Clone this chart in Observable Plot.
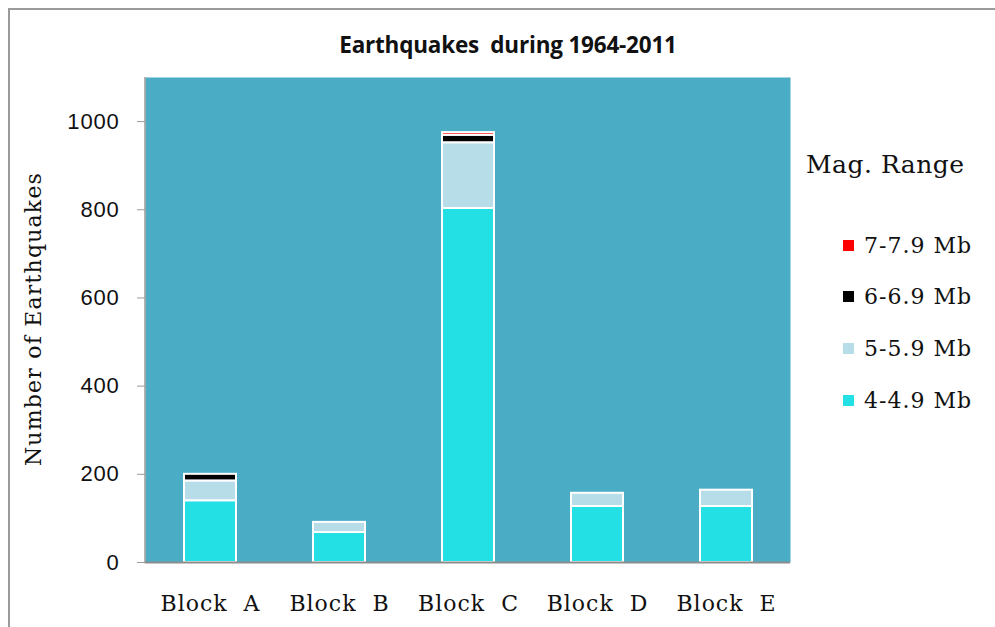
<!DOCTYPE html>
<html>
<head>
<meta charset="utf-8">
<script src="https://cdn.jsdelivr.net/npm/d3@7"></script>
<script src="https://cdn.jsdelivr.net/npm/@observablehq/plot@0.6"></script>
<style>
  html, body { margin: 0; padding: 0; background: #fff; }
  #wrap { position: relative; width: 995px; height: 627px; overflow: hidden; }
  #frame { position: absolute; left: 8px; top: 8px; width: 1000px; height: 640px; border: 2px solid #9a9a9a; box-sizing: border-box; }
  #title { position: absolute; left: 0; width: 1016px; top: 29px; text-align: center; font-family: "Open Sans", sans-serif; font-weight: bold; font-size: 22.5px; letter-spacing: -0.2px; color: #111; white-space: pre; }
  #ylab { position: absolute; left: 33px; top: 319px; transform: translate(-50%, -50%) rotate(-90deg); font-family: "DejaVu Serif", serif; font-size: 22px; letter-spacing: 1.2px; color: #111; white-space: nowrap; }
  #legend { position: absolute; left: 806px; top: 150px; font-family: "DejaVu Serif", serif; color: #111; }
  #legend .ttl { font-size: 25px; letter-spacing: 0.5px; white-space: nowrap; }
  #legend .item { position: absolute; left: 37px; font-size: 22px; letter-spacing: 1px; white-space: nowrap; display: flex; align-items: center; height: 24px; }
  #legend .sw { width: 11px; height: 11px; margin-right: 10px; }
  svg { position: absolute; left: 0; top: 0; white-space: pre; }
</style>
</head>
<body>
<div id="wrap">
  <div id="frame"></div>
  <div id="chart"></div>
  <div id="title">Earthquakes  during 1964-2011</div>
  <div id="ylab">Number of Earthquakes</div>
  <div id="legend"></div>
</div>
<script>
const blocks = ["Block  A", "Block  B", "Block  C", "Block  D", "Block  E"];
const ranges = ["4-4.9 Mb", "5-5.9 Mb", "6-6.9 Mb", "7-7.9 Mb"];
const colors = ["#22E0E4", "#B7DDE8", "#000000", "#FF0000"];
const mag4 = [140, 68, 803, 127, 127];
const mag5 = [45, 23, 149, 30, 37];
const mag6 = [15, 0, 17, 0, 0];
const mag7 = [0, 0, 6, 0, 0];
const yTicks = [0, 200, 400, 600, 800, 1000];

const series = [mag4, mag5, mag6, mag7];
const rows = [];
blocks.forEach((b, i) => {
  series.forEach((s, j) => {
    if (s[i] > 0) rows.push({block: b, range: ranges[j], value: s[i]});
  });
});

const chart = Plot.plot({
  width: 995,
  height: 627,
  marginLeft: 145,
  marginRight: 205,
  marginTop: 77,
  marginBottom: 65,
  style: {background: "transparent", fontFamily: "Liberation Sans, sans-serif"},
  x: {domain: blocks, paddingInner: 0.6, paddingOuter: 0.3, label: null},
  y: {domain: [0, 1100], label: null},
  color: {domain: ranges, range: colors},
  marks: [
    Plot.frame({fill: "#4BACC6", stroke: null}),
    Plot.barY(rows, {x: "block", y: "value", fill: "range", stroke: "#fff", strokeWidth: 2, order: ranges}),
    Plot.ruleY([0], {stroke: "#8c8c8c", strokeWidth: 2}),
    Plot.axisY({ticks: yTicks, tickFormat: d3.format("d"), tickSize: 8, tickPadding: 18, stroke: "#9a9a9a", fontSize: 22, fill: "#111", label: null, fontFamily: "Liberation Sans, sans-serif"}),
    Plot.axisX({tickSize: 0, tickPadding: 33, fontSize: 22, fill: "#111", label: null, fontFamily: "DejaVu Serif, serif"})
  ]
});
document.getElementById("chart").appendChild(chart);

// left axis line of plot area
const svg = d3.select(chart);
svg.append("line").attr("x1", 145).attr("x2", 145).attr("y1", 77).attr("y2", 562).attr("stroke", "#9a9a9a").attr("stroke-width", 1.5);
svg.selectAll("[aria-label='x-axis tick label'] text").style("letter-spacing", "1px");
svg.selectAll("[aria-label='y-axis tick label'] text").style("letter-spacing", "0.8px");

const legend = document.getElementById("legend");
legend.innerHTML = '<div class="ttl">Mag. Range</div>';
const legendOrder = [3, 2, 1, 0];
legendOrder.forEach((j, k) => {
  const d = document.createElement("div");
  d.className = "item";
  d.style.top = (83 + k * 51.8) + "px";
  d.innerHTML = `<span class="sw" style="background:${colors[j]}"></span><span>${ranges[j]}</span>`;
  legend.appendChild(d);
});
</script>
</body>
</html>
